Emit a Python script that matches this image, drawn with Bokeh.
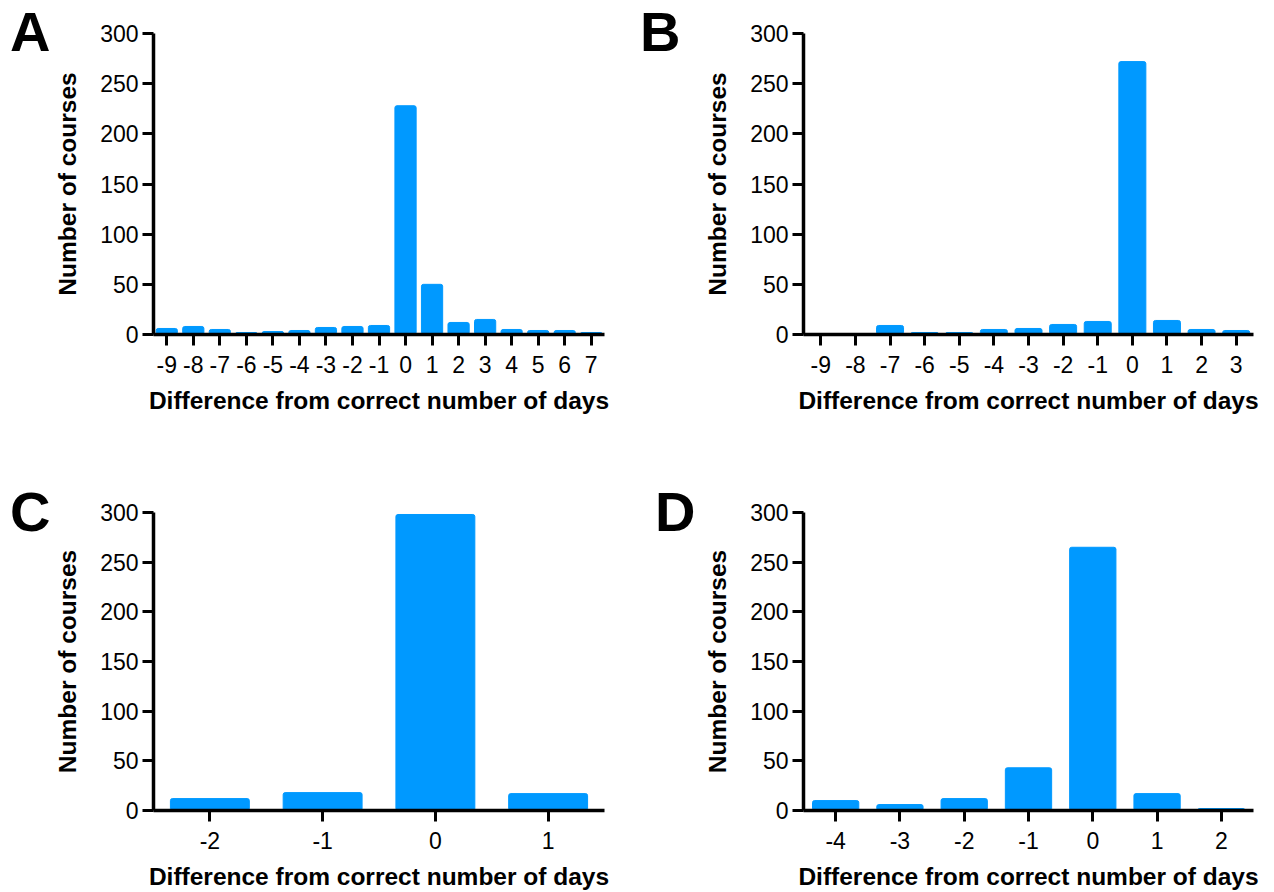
from bokeh.plotting import figure
from bokeh.layouts import row, column
from bokeh.models import Range1d, FixedTicker, Div
from bokeh.embed import file_html
from bokeh.resources import INLINE

# ---- data ----
days_a = [-9, -8, -7, -6, -5, -4, -3, -2, -1, 0, 1, 2, 3, 4, 5, 6, 7]
counts_a = [6, 8, 5, 2, 3, 4, 7, 8, 9, 228, 50, 12, 15, 5, 4, 4, 2]

days_b = [-9, -8, -7, -6, -5, -4, -3, -2, -1, 0, 1, 2, 3]
counts_b = [0, 0, 9, 2, 2, 5, 6, 10, 13, 272, 14, 5, 4]

days_c = [-2, -1, 0, 1]
counts_c = [12, 18, 298, 17]

days_d = [-4, -3, -2, -1, 0, 1, 2]
counts_d = [10, 6, 12, 43, 265, 17, 2]

y_ticks = [0, 50, 100, 150, 200, 250, 300]
x_label = "Difference from correct number of days"
y_label = "Number of courses"

BLUE = "#0099ff"
FONT = "Liberation Sans"


def panel(days, counts, bar_w, width, height, left, right, top, bottom):
    p = figure(width=width, height=height, output_backend="svg", toolbar_location=None,
               x_range=Range1d(days[0] - 0.5, days[-1] + 0.5), y_range=Range1d(0, 300),
               min_border_left=left, min_border_right=right,
               min_border_top=top, min_border_bottom=bottom)
    p.vbar(x=days, top=counts, width=bar_w, bottom=0, color=BLUE, line_color=BLUE,
           border_radius=2)
    p.xgrid.visible = False
    p.ygrid.visible = False
    p.outline_line_color = None
    for ax in (p.xaxis[0], p.yaxis[0]):
        ax.axis_line_width = 3.5
        ax.axis_line_color = "black"
        ax.major_tick_line_width = 3
        ax.major_tick_line_color = "black"
        ax.major_tick_out = 11
        ax.major_tick_in = 0
        ax.minor_tick_line_color = None
        ax.major_label_text_font = FONT
        ax.major_label_text_font_size = "23px"
        ax.major_label_text_color = "black"
        ax.axis_label_text_font = FONT
        ax.axis_label_text_font_size = "24.5px"
        ax.axis_label_text_font_style = "bold"
        ax.axis_label_text_color = "black"
    p.xaxis.ticker = FixedTicker(ticks=days)
    p.xaxis.major_label_overrides = {d: str(d) for d in days}
    p.xaxis.major_label_standoff = 10
    p.xaxis.axis_label = x_label
    p.xaxis.axis_label_standoff = 11
    p.yaxis.ticker = FixedTicker(ticks=y_ticks)
    p.yaxis.major_label_standoff = 4
    p.yaxis.axis_label = y_label
    p.yaxis.axis_label_standoff = 16
    return p


def letter(text, width, height, pad_left, pad_top):
    return Div(text=text, width=width, height=height,
               styles={"font-family": FONT, "font-size": "56px", "font-weight": "bold",
                       "line-height": "56px", "color": "black", "overflow": "visible",
                       "padding-left": f"{pad_left}px", "padding-top": f"{pad_top}px",
                       "margin": "0", "box-sizing": "border-box"})


la = letter("A", 50, 470, 10, 4)
pa = panel(days_a, counts_a, 0.8, 588, 470, 103, 34, 33, 136)
lb = letter("B", 45, 470, 2, 4)
pb = panel(days_b, counts_b, 0.78, 583, 470, 120, 13, 33, 136)

lc = letter("C", 50, 422, 10, 14)
pc = panel(days_c, counts_c, 0.70, 588, 422, 103, 34, 42, 81)
ld = letter("D", 62, 422, 17, 14)
pd = panel(days_d, counts_d, 0.72, 566, 422, 103, 13, 42, 81)

layout = column(row(la, pa, lb, pb), row(lc, pc, ld, pd))
open("out.html", "w").write(file_html(layout, INLINE))
